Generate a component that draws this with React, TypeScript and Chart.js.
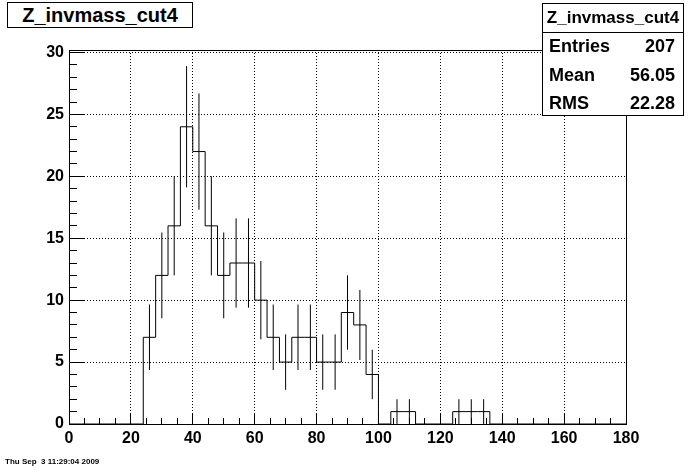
import React, { useEffect, useRef } from 'react';
import { Chart, registerables } from 'chart.js';

Chart.register(...registerables);

// ---- Data ----
const histTitle = 'Z_invmass_cut4';
const binWidth = 4;
const binStarts = [
  0, 4, 8, 12, 16, 20, 24, 28, 32, 36, 40, 44, 48, 52, 56, 60, 64, 68, 72, 76, 80, 84, 88,
  92, 96, 100, 104, 108, 112, 116, 120, 124, 128, 132, 136, 140, 144, 148, 152, 156, 160,
  164, 168, 172, 176,
];
const counts = [
  0, 0, 0, 0, 0, 0, 7, 12, 16, 24, 22, 16, 12, 13, 13, 10, 7, 5, 7, 7, 5, 5, 9,
  8, 4, 0, 1, 1, 0, 0, 0, 1, 1, 1, 0, 0, 0, 0, 0, 0, 0,
  0, 0, 0, 0,
];
const xMin = 0;
const xMax = 180;
const yMin = 0;
const yMax = 30.2;
const xTickValues = [0, 20, 40, 60, 80, 100, 120, 140, 160, 180];
const xTickLabels = ['0', '20', '40', '60', '80', '100', '120', '140', '160', '180'];
const yTickValues = [0, 5, 10, 15, 20, 25, 30];
const yTickLabels = ['0', '5', '10', '15', '20', '25', '30'];
const xMinorStep = 5;
const yMinorStep = 1;
const statLabels = ['Entries', 'Mean', 'RMS'];
const statValues = ['207', '56.05', '22.28'];
const dateText = 'Thu Sep  3 11:29:04 2009';

const FONT = '"Liberation Sans", Arial, Helvetica, sans-serif';
const NARROW = '"Liberation Sans Narrow", "Arial Narrow", "Liberation Sans", Arial, sans-serif';
const TICK_COLOR = '#000000';

function minorTicks(min: number, max: number, step: number) {
  const out: { value: number }[] = [];
  for (let v = min; v <= max + 1e-9; v += step) out.push({ value: v });
  return out;
}

export default function App() {
  const canvasRef = useRef<HTMLCanvasElement | null>(null);

  useEffect(() => {
    const canvas = canvasRef.current;
    if (!canvas) return;

    const stepData: { x: number; y: number }[] = binStarts.map((x, i) => ({ x, y: counts[i] }));
    stepData.push({ x: xMax, y: 0 });

    const errData: { x: number; y: number | null }[] = [];
    binStarts.forEach((x, i) => {
      const n = counts[i];
      if (n > 0) {
        const c = x + binWidth / 2;
        const e = Math.sqrt(n);
        errData.push({ x: c, y: n - e }, { x: c, y: n + e }, { x: c, y: null });
      }
    });

    const noLabels = { display: false };

    const chart = new Chart(canvas, {
      type: 'line',
      data: {
        datasets: [
          {
            label: histTitle,
            data: stepData,
            stepped: 'before',
            borderColor: '#000',
            borderWidth: 1,
            pointRadius: 0,
            fill: false,
            xAxisID: 'x',
            yAxisID: 'y',
          },
          {
            label: 'errors',
            data: errData as any,
            borderColor: '#000',
            borderWidth: 1,
            pointRadius: 0,
            spanGaps: false,
            fill: false,
            xAxisID: 'x',
            yAxisID: 'y',
          },
        ],
      },
      options: {
        animation: false,
        responsive: false,
        maintainAspectRatio: false,
        devicePixelRatio: 1,
        events: [],
        layout: { padding: { left: 0, top: 50, right: 70, bottom: 0 } },
        plugins: {
          legend: { display: false },
          tooltip: { enabled: false },
          title: { display: false },
        },
        scales: {
          // bottom axis: labels + minor tick marks (pointing inward)
          x: {
            type: 'linear',
            position: 'bottom',
            weight: 5,
            min: xMin,
            max: xMax,
            afterBuildTicks: (s: any) => {
              s.ticks = minorTicks(xMin, xMax, xMinorStep);
            },
            afterFit: (s: any) => {
              s.height = 48;
            },
            grid: {
              drawOnChartArea: false,
              drawTicks: true,
              tickLength: -6,
              tickColor: TICK_COLOR,
              tickWidth: 1,
            },
            border: { display: true, color: '#000', width: 1 },
            ticks: {
              color: '#000',
              padding: 11,
              maxRotation: 0,
              autoSkip: false,
              font: { family: NARROW, weight: 'bold', size: 16 },
              callback: (v: any) => {
                const i = xTickValues.indexOf(Number(v));
                return i >= 0 ? xTickLabels[i] : '';
              },
            },
          },
          // bottom axis: major tick marks + dotted grid
          xMajor: {
            type: 'linear',
            position: 'bottom',
            weight: 0,
            min: xMin,
            max: xMax,
            afterBuildTicks: (s: any) => {
              s.ticks = xTickValues.map((v) => ({ value: v }));
            },
            afterFit: (s: any) => {
              s.height = 0;
            },
            grid: {
              drawOnChartArea: true,
              color: '#000',
              lineWidth: 1,
              drawTicks: true,
              tickLength: -11,
              tickColor: TICK_COLOR,
              tickWidth: 1,
            },
            border: { display: false, dash: [1, 2] },
            ticks: noLabels,
          },
          xTop: {
            type: 'linear',
            position: 'top',
            min: xMin,
            max: xMax,
            afterBuildTicks: (s: any) => {
              s.ticks = [];
            },
            afterFit: (s: any) => {
              s.height = 0;
            },
            grid: { display: false, drawOnChartArea: false, drawTicks: false },
            border: { display: true, color: '#000', width: 1 },
            ticks: noLabels,
          },
          y: {
            type: 'linear',
            position: 'left',
            weight: 5,
            min: yMin,
            max: yMax,
            afterBuildTicks: (s: any) => {
              s.ticks = minorTicks(yMin, 30, yMinorStep);
            },
            afterFit: (s: any) => {
              s.width = 69;
            },
            grid: {
              drawOnChartArea: false,
              drawTicks: true,
              tickLength: -8,
              tickColor: TICK_COLOR,
              tickWidth: 1,
            },
            border: { display: true, color: '#000', width: 1 },
            ticks: {
              color: '#000',
              padding: 13,
              autoSkip: false,
              font: { family: FONT, weight: 'bold', size: 16 },
              callback: (v: any) => {
                const i = yTickValues.indexOf(Number(v));
                return i >= 0 ? yTickLabels[i] : '';
              },
            },
          },
          yMajor: {
            type: 'linear',
            position: 'left',
            weight: 0,
            min: yMin,
            max: yMax,
            afterBuildTicks: (s: any) => {
              s.ticks = yTickValues.map((v) => ({ value: v }));
            },
            afterFit: (s: any) => {
              s.width = 0;
            },
            grid: {
              drawOnChartArea: true,
              color: '#000',
              lineWidth: 1,
              drawTicks: true,
              tickLength: -16,
              tickColor: TICK_COLOR,
              tickWidth: 1,
            },
            border: { display: false, dash: [1, 2] },
            ticks: noLabels,
          },
          yRight: {
            type: 'linear',
            position: 'right',
            min: yMin,
            max: yMax,
            afterBuildTicks: (s: any) => {
              s.ticks = [];
            },
            afterFit: (s: any) => {
              s.width = 0;
            },
            grid: { display: false, drawOnChartArea: false, drawTicks: false },
            border: { display: true, color: '#000', width: 1 },
            ticks: noLabels,
          },
        },
      } as any,
    });

    return () => chart.destroy();
  }, []);

  const rowCenters = [46, 75, 103];

  return (
    <div
      style={{
        position: 'fixed',
        left: 0,
        top: 0,
        width: 696,
        height: 472,
        background: '#fff',
        overflow: 'hidden',
        fontFamily: FONT,
      }}
    >
      <canvas ref={canvasRef} width={696} height={472} style={{ width: 696, height: 472, display: 'block' }} />

      <div
        style={{
          position: 'absolute',
          left: 7,
          top: 2,
          width: 184,
          height: 24,
          border: '1px solid #000',
          background: '#fff',
          display: 'flex',
          alignItems: 'center',
          justifyContent: 'center',
          fontWeight: 'bold',
          fontSize: 20,
          lineHeight: '24px',
          color: '#000',
          whiteSpace: 'nowrap',
        }}
      >
        {histTitle}
      </div>

      <div
        style={{
          position: 'absolute',
          left: 542,
          top: 3,
          width: 140,
          height: 111,
          border: '1px solid #000',
          background: '#fff',
          color: '#000',
          fontWeight: 'bold',
        }}
      >
        <div
          style={{
            position: 'absolute',
            left: 0,
            top: 0,
            width: 140,
            height: 28,
            borderBottom: '1px solid #000',
            textAlign: 'center',
            fontSize: 17,
            lineHeight: '28px',
            whiteSpace: 'nowrap',
          }}
        >
          {histTitle}
        </div>
        {statLabels.map((lab, i) => (
          <div
            key={lab}
            style={{
              position: 'absolute',
              left: 6,
              top: rowCenters[i] - 4 - 14,
              width: 126,
              height: 28,
              lineHeight: '28px',
              fontSize: 18,
              display: 'flex',
              justifyContent: 'space-between',
              whiteSpace: 'nowrap',
            }}
          >
            <span>{lab}</span>
            <span>{statValues[i]}</span>
          </div>
        ))}
      </div>

      <div
        style={{
          position: 'absolute',
          left: 5,
          top: 456,
          fontSize: 8,
          lineHeight: '12px',
          fontWeight: 'bold',
          whiteSpace: 'pre',
          color: '#000',
        }}
      >
        {dateText}
      </div>
    </div>
  );
}
